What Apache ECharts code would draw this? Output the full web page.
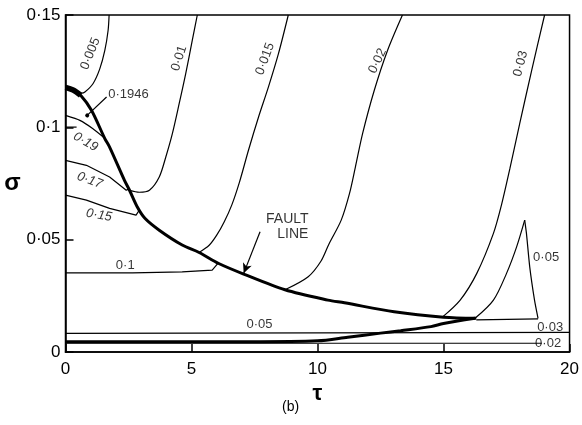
<!DOCTYPE html>
<html>
<head>
<meta charset="utf-8">
<script src="https://cdn.jsdelivr.net/npm/echarts@6/dist/echarts.min.js"></script>
<style>
html,body{margin:0;padding:0;background:#fff;}
#chart{width:582px;height:425px;}
</style>
</head>
<body>
<div id="chart"></div>
<script>
// ---- data (tau, sigma) ----
const xTickLabels = ['0', '5', '10', '15', '20'];
const yTickLabels = ['0', '0·05', '0·1', '0·15'];

const faultLine = [[0,0.1178],[0.3,0.1166],[0.6,0.1143],[1.03,0.1076],[1.56,0.095],[1.75,0.0912],[2.34,0.0764],[2.54,0.072],[2.85,0.0645],[3.15,0.0595],[3.72,0.0542],[4.63,0.0476],[5.3,0.0443],[6.08,0.0394],[7.07,0.0347],[8.71,0.0277],[10.41,0.0231],[11.07,0.0219],[13.04,0.0179],[15.0,0.0155],[16.3,0.015]];
const faultStart = [[0,0.1178],[0.3,0.1166],[0.6,0.1143]];
const lowerThick = [[0,0.0046],[5,0.0046],[7.3,0.0046],[10,0.005],[11.2,0.0066],[12.5,0.0084],[13.3,0.0095],[14.5,0.0113],[15.0,0.0127],[16.25,0.015]];

const c005 = [[0.5,0.1157],[0.64,0.1152],[0.77,0.1157],[1.09,0.1194],[1.36,0.126],[1.56,0.1342],[1.69,0.1431],[1.73,0.15]];
const c01 = [[2.54,0.072],[2.93,0.0711],[3.33,0.072],[3.72,0.0779],[3.98,0.0868],[4.24,0.0972],[4.51,0.1105],[4.77,0.1239],[5.03,0.1387],[5.23,0.15]];
const c015 = [[5.3,0.0443],[5.7,0.0475],[6.0,0.052],[6.3,0.058],[6.6,0.0655],[6.9,0.0755],[7.26,0.0898],[7.66,0.1046],[8.05,0.1179],[8.45,0.1328],[8.84,0.15]];
const c02 = [[8.71,0.0277],[9.63,0.0335],[10.14,0.0405],[10.45,0.048],[10.94,0.0587],[11.27,0.0706],[11.5,0.0822],[11.79,0.0973],[12.25,0.1164],[12.77,0.134],[13.37,0.15]];
const c03 = [[14.94,0.0154],[15.66,0.0231],[16.32,0.035],[16.98,0.0528],[17.3,0.0655],[17.63,0.0815],[18.02,0.1015],[18.5,0.1255],[19.01,0.15]];
const c05Up = [[16.25,0.015],[16.98,0.0231],[17.5,0.035],[17.9,0.0468],[18.22,0.0587]];
const c05Down = [[18.22,0.0587],[18.29,0.0528],[18.42,0.0379],[18.61,0.0231],[18.75,0.015]];

const h010 = [[0,0.0352],[2.66,0.0352],[4.63,0.0357],[5.82,0.0364],[6.04,0.0393]];
const h015 = [[0,0.0698],[0.83,0.0676],[1.75,0.0639],[2.8,0.0609],[2.93,0.0632]];
const h017 = [[0,0.0853],[0.83,0.0831],[1.75,0.0779],[2.41,0.072],[2.52,0.0726]];
const h019 = [[0,0.1053],[0.57,0.1031],[1.09,0.0994],[1.52,0.0955]];
const h019b = [[0,0.1001],[0.44,0.1001]];
const h005 = [[0,0.0083],[20,0.0087]];
const h002 = [[0,0.0039],[18.9,0.0039]];
const h003 = [[16.3,0.0143],[18.75,0.0147]];

const faultArrow = [[7.72,0.0535],[7.07,0.035]];
const pointer1946 = [[1.63,0.1135],[0.86,0.1053]];

// labels: text, tau, sigma, rotation, italic
const labelText = ['0·005','0·01','0·015','0·02','0·03','0·19','0·17','0·15','0·1','0·1946','FAULT','LINE','0·05','0·03','0·02','0·05'];
const labelTau  = [0.99, 4.51, 7.92, 12.38, 18.06, 0.8, 0.96, 1.33, 2.37, 2.5, 8.8, 9.02, 19.07, 19.23, 19.15, 7.7];
const labelSig  = [0.1328,0.1307,0.1305,0.1295,0.1283,0.0935,0.0764,0.0609,0.0387,0.1147,0.0591,0.0524,0.0422,0.0111,0.004,0.0124];
const labelRot  = [68, 72, 70, 65, 75, -30, -20, -10, 0, 0, 0, 0, 0, 0, 0, 0];
const labelItal = [0,0,0,0,0,1,1,1,0,0,0,0,0,0,0,0];
const labelSize = [13,13,13,13,13,13,13,13,13,13,14,14,13,13,13,13];

// ---- chart ----
const FONT = '"Liberation Sans", Arial, sans-serif';
function ln(data, width, smooth) {
  return {
    type: 'line', data: data, showSymbol: false, symbol: 'none',
    smooth: smooth, silent: true, clip: false,
    lineStyle: { color: '#000', width: width }
  };
}
const series = [
  ln(faultLine, 3, 0.3),
  ln(faultStart, 5.5, 0.3),
  ln(lowerThick, 3, 0.3),
  ln(c005, 1.2, 0.3), ln(c01, 1.2, 0.3), ln(c015, 1.2, 0.3), ln(c02, 1.2, 0.3), ln(c03, 1.2, 0.3),
  ln(c05Up, 1.2, 0.3), ln(c05Down, 1.2, 0.2),
  ln(h010, 1.2, false), ln(h015, 1.2, false), ln(h017, 1.2, false), ln(h019, 1.2, 0.2), ln(h019b, 1.2, false),
  ln(h005, 1.2, false), ln(h002, 1.2, false), ln(h003, 1.2, false)
];
series[0].markLine = {
  silent: true, animation: false,
  label: { show: false },
  lineStyle: { color: '#000', width: 1.2, type: 'solid' },
  data: [
    [{ coord: faultArrow[0], symbol: 'none' }, { coord: faultArrow[1], symbol: 'arrow', symbolSize: [7, 10] }],
    [{ coord: pointer1946[0], symbol: 'none' }, { coord: pointer1946[1], symbol: 'circle', symbolSize: 4 }]
  ]
};
series.push({
  type: 'scatter', symbolSize: 0, silent: true, clip: false,
  data: labelText.map((t, i) => ({
    value: [labelTau[i], labelSig[i]],
    label: {
      show: true, position: 'inside', formatter: t, rotate: labelRot[i],
      fontStyle: labelItal[i] ? 'italic' : 'normal',
      color: '#000', fontSize: labelSize[i], fontFamily: FONT
    }
  }))
});

const chart = echarts.init(document.getElementById('chart'), null, { renderer: 'canvas' });
chart.setOption({
  animation: false,
  backgroundColor: '#fff',
  grid: { left: 65.5, right: 9, top: 15, bottom: 73, show: true, borderColor: '#000', borderWidth: 1.5, backgroundColor: 'transparent' },
  xAxis: {
    type: 'value', min: 0, max: 20, interval: 5,
    name: 'τ', nameLocation: 'middle', nameGap: 31,
    nameTextStyle: { fontSize: 22, fontWeight: 'bold', color: '#000', fontFamily: FONT },
    axisLine: { lineStyle: { color: '#000', width: 1.5 } },
    axisTick: { inside: true, length: 8, lineStyle: { color: '#000', width: 1.5 } },
    axisLabel: { margin: 9, fontSize: 17, color: '#000', fontFamily: FONT,
      formatter: v => xTickLabels[Math.round(v / 5)] },
    splitLine: { show: false }
  },
  yAxis: {
    type: 'value', min: 0, max: 0.15, interval: 0.05,
    name: 'σ', nameLocation: 'middle', nameGap: 42, nameRotate: 0,
    nameTextStyle: { fontSize: 24, fontWeight: 'bold', color: '#000', fontFamily: FONT },
    axisLine: { lineStyle: { color: '#000', width: 1.5 } },
    axisTick: { inside: true, length: 8, lineStyle: { color: '#000', width: 1.5 } },
    axisLabel: { margin: 5, fontSize: 17, color: '#000', fontFamily: FONT,
      formatter: v => yTickLabels[Math.round(v / 0.05)] },
    splitLine: { show: false }
  },
  graphic: [{
    type: 'text', left: 282, top: 400,
    style: { text: '(b)', fontSize: 14, fill: '#000', fontFamily: FONT }
  }],
  series: series
});
</script>
</body>
</html>
